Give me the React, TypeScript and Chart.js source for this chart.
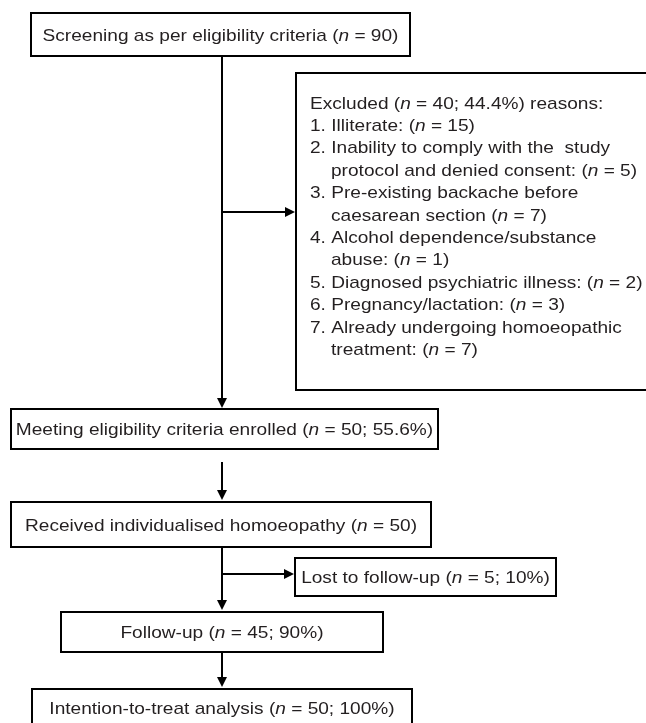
import React, { useEffect, useRef } from "react";
import { Chart, registerables } from "chart.js";

Chart.register(...registerables);

// ---- content ----
const MAIN_LABELS = [
  "Screening as per eligibility criteria (n = 90)",
  "Meeting eligibility criteria enrolled (n = 50; 55.6%)",
  "Received individualised homoeopathy (n = 50)",
  "Lost to follow-up (n = 5; 10%)",
  "Follow-up (n = 45; 90%)",
  "Intention-to-treat analysis (n = 50; 100%)",
];
const EXCLUDED_LINES = [
  "Excluded (n = 40; 44.4%) reasons:",
  "1. Illiterate: (n = 15)",
  "2. Inability to comply with the  study",
  "protocol and denied consent: (n = 5)",
  "3. Pre-existing backache before",
  "caesarean section (n = 7)",
  "4. Alcohol dependence/substance",
  "abuse: (n = 1)",
  "5. Diagnosed psychiatric illness: (n = 2)",
  "6. Pregnancy/lactation: (n = 3)",
  "7. Already undergoing homoeopathic",
  "treatment: (n = 7)",
];
const EXCLUDED_INDENT = [false, false, false, true, false, true, false, true, false, false, false, true];

// ---- layout (axis units = pixels of the reference) ----
const MAIN_BOXES = [
  { x0: 31, x1: 410, y0: 13, y1: 56, base: 40.5 },
  { x0: 11, x1: 438, y0: 409, y1: 449, base: 435 },
  { x0: 11, x1: 431, y0: 502, y1: 547, base: 530.5 },
  { x0: 295, x1: 556, y0: 558, y1: 596, base: 583 },
  { x0: 61, x1: 383, y0: 612, y1: 652, base: 638 },
  { x0: 32, x1: 412, y0: 689, y1: 740, base: 714 },
];
const EXCL_BOX = { x0: 296, x1: 660, y0: 73, y1: 390, textX: 310, indentX: 331, base0: 108.5, step: 22.4 };
// connectors: [x0,y0,x1,y1,arrow]
const CONNECTORS: [number, number, number, number, boolean][] = [
  [222, 56, 222, 408, true],
  [222, 212, 295, 212, true],
  [222, 462, 222, 500, true],
  [222, 547, 222, 610, true],
  [222, 574, 294, 574, true],
  [222, 652, 222, 687, true],
];

const FONT_SIZE = 16.6;
const SX = 1.15;
const FAMILY = '"Liberation Sans", Arial, Helvetica, sans-serif';
const TEXT_COLOR = "#231f20";

function segs(t: string) {
  const out: { s: string; it: boolean }[] = [];
  const re = /\(n =/g;
  let i = 0;
  let m: RegExpExecArray | null;
  while ((m = re.exec(t))) {
    out.push({ s: t.slice(i, m.index + 1), it: false });
    out.push({ s: "n", it: true });
    i = m.index + 2;
  }
  out.push({ s: t.slice(i), it: false });
  return out;
}

function richWidth(ctx: CanvasRenderingContext2D, t: string) {
  let w = 0;
  for (const sg of segs(t)) {
    ctx.font = `${sg.it ? "italic " : ""}${FONT_SIZE}px ${FAMILY}`;
    w += ctx.measureText(sg.s).width;
  }
  return w;
}

function drawRich(ctx: CanvasRenderingContext2D, t: string, x: number, y: number, align: "left" | "center") {
  const w = richWidth(ctx, t);
  ctx.save();
  ctx.textAlign = "left";
  ctx.textBaseline = "alphabetic";
  ctx.fillStyle = TEXT_COLOR;
  const startX = align === "center" ? x - (w * SX) / 2 : x;
  ctx.translate(startX, y);
  ctx.scale(SX, 1);
  let cx = 0;
  for (const sg of segs(t)) {
    ctx.font = `${sg.it ? "italic " : ""}${FONT_SIZE}px ${FAMILY}`;
    ctx.fillText(sg.s, cx, 0);
    cx += ctx.measureText(sg.s).width;
  }
  ctx.restore();
}

const flowPlugin = {
  id: "flow",
  afterDraw(chart: any) {
    const ctx: CanvasRenderingContext2D = chart.ctx;
    const xs = chart.scales.x;
    const ys = chart.scales.y;
    const px = (v: number) => xs.getPixelForValue(v);
    const py = (v: number) => ys.getPixelForValue(v);
    ctx.save();
    ctx.fillStyle = "#ffffff";
    ctx.fillRect(0, 0, chart.width, chart.height);
    ctx.strokeStyle = "#000000";
    ctx.lineWidth = 2;

    // connectors
    for (const [x0, y0, x1, y1, arrow] of CONNECTORS) {
      const X0 = px(x0), Y0 = py(y0), X1 = px(x1), Y1 = py(y1);
      const ang = Math.atan2(Y1 - Y0, X1 - X0);
      const hl = 10, hw = 5;
      const ex = arrow ? X1 - Math.cos(ang) * hl : X1;
      const ey = arrow ? Y1 - Math.sin(ang) * hl : Y1;
      ctx.beginPath();
      ctx.moveTo(X0, Y0);
      ctx.lineTo(ex, ey);
      ctx.stroke();
      if (arrow) {
        ctx.fillStyle = "#000000";
        ctx.beginPath();
        ctx.moveTo(X1, Y1);
        ctx.lineTo(ex - Math.sin(ang) * hw, ey + Math.cos(ang) * hw);
        ctx.lineTo(ex + Math.sin(ang) * hw, ey - Math.cos(ang) * hw);
        ctx.closePath();
        ctx.fill();
      }
    }

    // main boxes
    MAIN_BOXES.forEach((b, i) => {
      const X0 = px(b.x0), X1 = px(b.x1), Y0 = py(b.y0), Y1 = py(b.y1);
      ctx.fillStyle = "#ffffff";
      ctx.fillRect(X0, Y0, X1 - X0, Y1 - Y0);
      ctx.strokeStyle = "#000000";
      ctx.lineWidth = 2;
      ctx.strokeRect(X0, Y0, X1 - X0, Y1 - Y0);
      drawRich(ctx, MAIN_LABELS[i], (X0 + X1) / 2, py(b.base), "center");
    });

    // excluded box
    {
      const b = EXCL_BOX;
      const X0 = px(b.x0), X1 = px(b.x1), Y0 = py(b.y0), Y1 = py(b.y1);
      ctx.fillStyle = "#ffffff";
      ctx.fillRect(X0, Y0, X1 - X0, Y1 - Y0);
      ctx.strokeStyle = "#000000";
      ctx.lineWidth = 2;
      ctx.strokeRect(X0, Y0, X1 - X0, Y1 - Y0);
      EXCLUDED_LINES.forEach((t, i) => {
        const x = px(EXCLUDED_INDENT[i] ? b.indentX : b.textX);
        drawRich(ctx, t, x, py(b.base0 + i * b.step), "left");
      });
    }
    ctx.restore();
  },
};

export default function App() {
  const ref = useRef<HTMLCanvasElement | null>(null);
  useEffect(() => {
    if (!ref.current) return;
    document.body.style.margin = "0";
    const chart = new Chart(ref.current, {
      type: "scatter",
      data: { datasets: [{ data: [], showLine: false }] },
      options: {
        animation: false,
        responsive: false,
        devicePixelRatio: 1,
        layout: { padding: 0 },
        plugins: { legend: { display: false }, tooltip: { enabled: false } },
        scales: {
          x: { type: "linear", min: 0, max: 646, display: false },
          y: { type: "linear", min: 0, max: 723, reverse: true, display: false },
        },
      },
      plugins: [flowPlugin],
    });
    return () => chart.destroy();
  }, []);
  return (
    <div style={{ position: "absolute", left: 0, top: 0, width: 646, height: 723, background: "#fff" }}>
      <canvas ref={ref} width={646} height={723} style={{ display: "block" }} />
    </div>
  );
}
